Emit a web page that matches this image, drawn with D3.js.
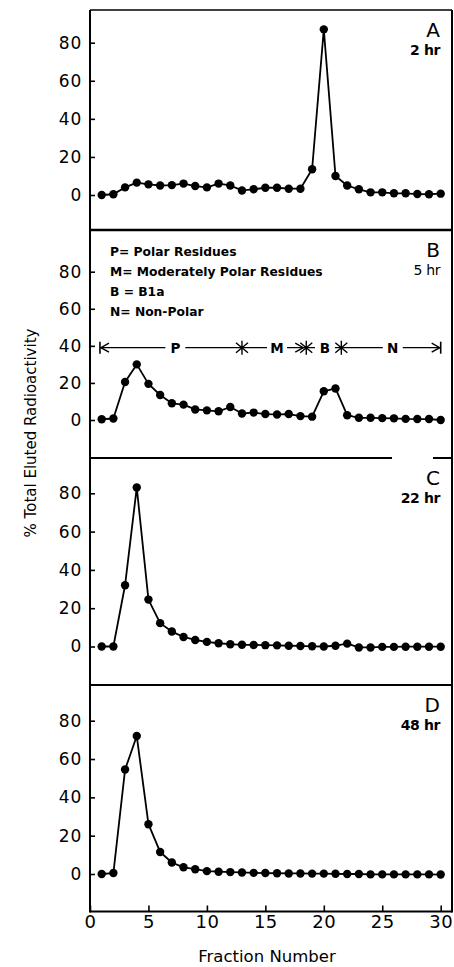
<!DOCTYPE html>
<html>
<head>
<meta charset="utf-8">
<script src="https://cdn.jsdelivr.net/npm/d3@7"></script>
<style>
  html, body { margin: 0; padding: 0; background: #fff; }
  svg { display: block; }
  text { font-family: "DejaVu Sans", sans-serif; fill: #000; }
</style>
</head>
<body>
<svg id="chart" width="454" height="967"></svg>
<script>
// ---------- data ----------
const fractions = [1,2,3,4,5,6,7,8,9,10,11,12,13,14,15,16,17,18,19,20,21,22,23,24,25,26,27,28,29,30];
const seriesA = [0,0.4,4,6.5,5.6,5,5.2,6,4.7,4,6,5,2.4,3,3.8,3.8,3.3,3.3,13.5,87,10,5,3,1.4,1.4,0.9,0.9,0.5,0.4,0.7];
const seriesB = [0.4,0.8,20.5,30,19.5,13.5,9,8.3,5.7,5.2,4.7,7,3.5,4,3.2,3,3.2,2.1,1.8,15.5,17,2.6,1.2,1.2,1,0.9,0.6,0.5,0.5,0];
const seriesC = [0,0,32,83,24.5,12.2,7.8,5,3.4,2.4,1.7,1.2,0.9,0.8,0.7,0.6,0.4,0.3,0.1,0,0.4,1.5,-0.5,-0.5,-0.2,-0.2,-0.1,-0.1,-0.1,-0.1];
const seriesD = [0,0.5,54.5,72,26,11.5,6,3.5,2.5,1.5,1.2,1,0.8,0.6,0.5,0.4,0.3,0.3,0.2,0.2,0.1,0,0,-0.2,-0.2,-0.2,-0.2,-0.2,-0.2,-0.3];
const allSeries = [seriesA, seriesB, seriesC, seriesD];
const panelLetters = ["A", "B", "C", "D"];
const panelTimes = ["2 hr", "5 hr", "22 hr", "48 hr"];
const yTicks = [0, 20, 40, 60, 80];
const xTicks = [0, 5, 10, 15, 20, 25, 30];
const legendLines = ["P= Polar Residues", "M= Moderately Polar Residues", "B = B1a", "N= Non-Polar"];
const regionBounds = [0.85, 13, 18.5, 21.5, 30];
const regionLabels = ["P", "M", "B", "N"];
const regionLabelAt = [7.3, 16, 20.1, 25.9];
const regionLevel = 39;
const xTitle = "Fraction Number";
const yTitle = "% Total Eluted Radioactivity";

// ---------- layout ----------
const left = 90, right = 452;
const panels = [
  { top: 10,  bottom: 230,   y0: 195,   y80: 42.7 },
  { top: 230, bottom: 458,   y0: 420,   y80: 271.7 },
  { top: 458, bottom: 685,   y0: 646.5, y80: 493.3 },
  { top: 685, bottom: 911.5, y0: 874,   y80: 720.7 }
];
const timeWeights = ["bold", "normal", "bold", "bold"];

const svg = d3.select("#chart");
const x = d3.scaleLinear().domain([0, 30]).range([left, 440.7]);

panels.forEach((p, i) => {
  const y = d3.scaleLinear().domain([0, 80]).range([p.y0, p.y80]);
  const g = svg.append("g");

  // y axis
  const ax = g.append("g").attr("transform", `translate(${left},0)`)
    .call(d3.axisLeft(y).tickValues(yTicks).tickSizeInner(-5).tickSizeOuter(0).tickPadding(8));
  ax.select(".domain").remove();
  ax.selectAll(".tick line").attr("stroke", "#000").attr("stroke-width", 1.6);
  ax.selectAll(".tick text").style("font-size", "17px").style("font-family", "DejaVu Sans, sans-serif").attr("letter-spacing", "0.8");

  // series line + markers
  const data = fractions.map((f, k) => [f, allSeries[i][k]]);
  g.append("path").datum(data)
    .attr("fill", "none").attr("stroke", "#000").attr("stroke-width", 1.8)
    .attr("stroke-linejoin", "round")
    .attr("d", d3.line().x(d => x(d[0])).y(d => y(d[1])));
  g.selectAll("circle").data(data).join("circle")
    .attr("cx", d => x(d[0])).attr("cy", d => y(d[1])).attr("r", 4.2).attr("fill", "#000");

  // panel labels
  g.append("text").attr("x", 440).attr("y", p.top + 27).attr("text-anchor", "end")
    .style("font-size", "20px").text(panelLetters[i]);
  g.append("text").attr("x", 440).attr("y", p.top + 45).attr("text-anchor", "end")
    .style("font-size", "14px").style("font-weight", timeWeights[i]).attr("letter-spacing", "-0.4").text(panelTimes[i]);

  // legend in panel B
  if (i === 1) {
    legendLines.forEach((t, k) => {
      g.append("text").attr("x", 110).attr("y", 256 + k * 20)
        .style("font-size", "12.3px").style("font-weight", "bold").text(t);
    });
    const ly = y(regionLevel);
    g.append("line").attr("x1", x(regionBounds[0])).attr("x2", x(regionBounds[4]))
      .attr("y1", ly).attr("y2", ly).attr("stroke", "#000").attr("stroke-width", 1.3);
    [regionBounds[0], regionBounds[4]].forEach(b => {
      g.append("line").attr("x1", x(b)).attr("x2", x(b)).attr("y1", ly - 6).attr("y2", ly + 6)
        .attr("stroke", "#000").attr("stroke-width", 1.6);
    });
    const arrow = (xp, dir) => {
      g.append("path").attr("d", `M${xp + dir * 8},${ly - 4.5} L${xp},${ly} L${xp + dir * 8},${ly + 4.5}`)
        .attr("fill", "none").attr("stroke", "#000").attr("stroke-width", 1.4);
    };
    arrow(x(regionBounds[0]) + 1, 1);
    arrow(x(regionBounds[4]) - 1, -1);
    regionBounds.slice(1, 4).forEach(b => {
      const cx = x(b);
      g.append("path")
        .attr("d", `M${cx},${ly - 7} L${cx},${ly + 7} M${cx - 6},${ly - 5} L${cx + 6},${ly + 5} M${cx - 6},${ly + 5} L${cx + 6},${ly - 5}`)
        .attr("stroke", "#000").attr("stroke-width", 1.4).attr("fill", "none");
    });
    arrow(x(regionBounds[2]) - 3, -1);
    regionLabels.forEach((t, k) => {
      const cx = x(regionLabelAt[k]);
      g.append("rect").attr("x", cx - 10).attr("y", ly - 7).attr("width", 20).attr("height", 14).attr("fill", "#fff");
      g.append("text").attr("x", cx).attr("y", ly + 5).attr("text-anchor", "middle")
        .style("font-size", "13.5px").style("font-weight", "bold").text(t);
    });
  }
});

// frame
const frame = svg.append("g").attr("stroke", "#000").attr("fill", "none");
frame.append("line").attr("x1", left).attr("x2", left).attr("y1", 10).attr("y2", 912.5).attr("stroke-width", 2);
frame.append("line").attr("x1", right).attr("x2", right).attr("y1", 10).attr("y2", 912.5).attr("stroke-width", 2);
frame.append("line").attr("x1", left).attr("x2", right).attr("y1", 10).attr("y2", 10).attr("stroke-width", 1.5);
frame.append("line").attr("x1", left).attr("x2", right).attr("y1", 230).attr("y2", 230).attr("stroke-width", 2.6);
frame.append("line").attr("x1", left).attr("x2", 392).attr("y1", 458).attr("y2", 458).attr("stroke-width", 2);
frame.append("line").attr("x1", 433).attr("x2", right).attr("y1", 458).attr("y2", 458).attr("stroke-width", 2);
frame.append("line").attr("x1", left).attr("x2", right).attr("y1", 685).attr("y2", 685).attr("stroke-width", 2.2);

// x axis (bottom)
const xa = svg.append("g").attr("transform", "translate(0,911.5)")
  .call(d3.axisBottom(x).tickValues(xTicks).tickSizeInner(-6).tickSizeOuter(0).tickPadding(4));
xa.select(".domain").attr("d", `M${left},0H${right}`).attr("stroke", "#000").attr("stroke-width", 2);
xa.selectAll(".tick line").attr("stroke", "#000").attr("stroke-width", 1.6);
xa.selectAll(".tick text").style("font-size", "18px").style("font-family", "DejaVu Sans, sans-serif").attr("letter-spacing", "0.5");

// titles
svg.append("text").attr("x", 267).attr("y", 962).attr("text-anchor", "middle")
  .style("font-size", "16.5px").text(xTitle);
svg.append("text").attr("transform", "translate(36,433) rotate(-90)").attr("text-anchor", "middle")
  .style("font-size", "15px").text(yTitle);
</script>
</body>
</html>
